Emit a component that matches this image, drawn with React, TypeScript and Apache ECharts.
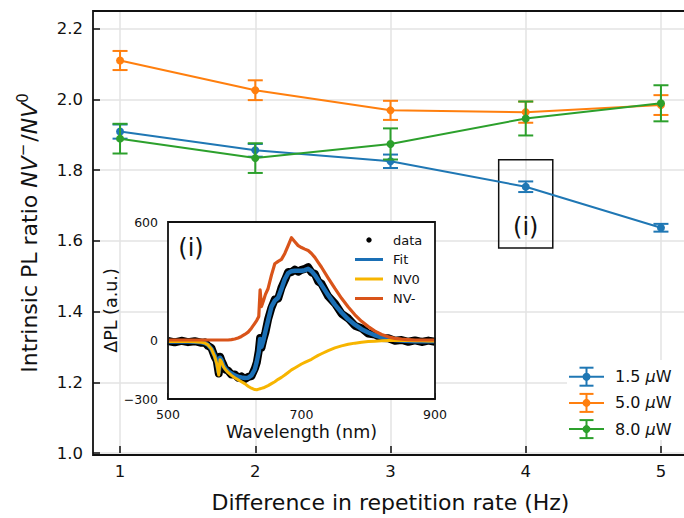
import React, { useEffect, useRef } from 'react';
import * as echarts from 'echarts';

// ---------- main panel data ----------
const repRates = [1, 2, 3, 4, 5];
const xTicks = [1, 2, 3, 4, 5];
const yTicks = [1.0, 1.2, 1.4, 1.6, 1.8, 2.0, 2.2];
const powerLabels = ['1.5', '5.0', '8.0'];
const colors = ['#1f77b4', '#ff7f0e', '#2ca02c'];
const ratio15 = [1.909, 1.856, 1.825, 1.753, 1.637];
const err15 = [0.02, 0.018, 0.019, 0.015, 0.011];
const ratio50 = [2.11, 2.026, 1.969, 1.964, 1.984];
const err50 = [0.027, 0.028, 0.027, 0.03, 0.028];
const ratio80 = [1.889, 1.834, 1.874, 1.946, 1.989];
const err80 = [0.042, 0.042, 0.044, 0.048, 0.051];

// ---------- inset data ----------
const wavelength = [500, 510, 520, 530, 540, 550, 555, 560, 565, 570, 573, 576, 578, 580, 583, 586, 590, 595, 600, 605, 610, 615, 620, 625, 630, 633, 636, 638, 640, 643, 646, 650, 655, 660, 665, 670, 675, 680, 685, 690, 695, 700, 705, 710, 715, 720, 725, 730, 740, 750, 760, 770, 780, 790, 800, 810, 820, 830, 840, 850, 860, 870, 880, 890, 900];
const dataPL = [-5, -12, -4, -11, -6, -14, -12, -30, -40, -86, -105, -170, -85, -104, -126, -150, -156, -176, -175, -192, -185, -198, -188, -184, -146, -115, -55, 10, -40, 5, 40, 106, 164, 206, 210, 266, 304, 346, 345, 358, 347, 357, 362, 370, 344, 336, 298, 286, 222, 186, 134, 110, 73, 60, 33, 28, 10, 9, -4, 0, -9, -2, -10, -3, -9];
const fitPL = [-8, -8, -8, -8, -9, -12, -15, -25, -45, -80, -110, -165, -90, -100, -130, -145, -160, -170, -180, -186, -190, -193, -192, -180, -150, -110, -60, 5, -35, 0, 45, 100, 170, 200, 215, 260, 310, 340, 350, 352, 352, 352, 355, 362, 350, 330, 305, 280, 228, 180, 140, 105, 78, 55, 38, 24, 14, 6, 0, -3, -5, -6, -6, -6, -6];
const nv0PL = [-8, -8, -8, -8, -9, -12, -15, -25, -45, -85, -120, -178, -100, -110, -135, -150, -165, -180, -192, -202, -212, -222, -235, -245, -252, -253, -250, -248, -246, -243, -238, -232, -222, -212, -200, -190, -178, -165, -152, -142, -132, -122, -114, -106, -98, -88, -78, -70, -54, -40, -30, -22, -16, -11, -8, -6, -4, -3, -2, -2, -3, -4, -4, -5, -5];
const nvmPL = [0, 0, 0, 0, 0, 0, 0, 0, 0, 0, 0, 0, 0, 0, 0, 0, 0, 2, 5, 10, 18, 28, 40, 60, 85, 100, 120, 255, 170, 200, 232, 262, 330, 388, 400, 410, 440, 480, 520, 500, 480, 470, 462, 455, 440, 420, 395, 370, 315, 262, 212, 168, 128, 95, 68, 45, 28, 16, 8, 4, 2, 0, 0, 0, 0];
const insetXTicks = [500, 700, 900];
const insetYTicks = [-300, 0, 600];
const insetNames = ['data', 'Fit', 'NV0', 'NV-'];
const insetColors = ['#000000', '#1a6fb5', '#f7b500', '#d9541a'];

const FONT = 'DejaVu Sans';

const MAIN_GRID = { left: 93, top: 11, width: 595, height: 444 };
const INSET_GRID = { left: 168, top: 222, width: 267, height: 177 };

function errRender(color: string) {
  return (params: any, api: any) => {
    const x = api.value(0);
    const y = api.value(1);
    const e = api.value(2);
    const top = api.coord([x, y + e]);
    const bot = api.coord([x, y - e]);
    const hw = 7.5;
    const style = { stroke: color, lineWidth: 2 };
    return {
      type: 'group',
      children: [
        { type: 'line', shape: { x1: top[0], y1: top[1], x2: bot[0], y2: bot[1] }, style },
        { type: 'line', shape: { x1: top[0] - hw, y1: top[1], x2: top[0] + hw, y2: top[1] }, style },
        { type: 'line', shape: { x1: bot[0] - hw, y1: bot[1], x2: bot[0] + hw, y2: bot[1] }, style },
      ],
    };
  };
}

export default function App() {
  const ref = useRef<HTMLDivElement>(null);
  useEffect(() => {
    if (!ref.current) return;
    const chart = echarts.init(ref.current, undefined, { renderer: 'svg' });
    const ratios = [ratio15, ratio50, ratio80];
    const errs = [err15, err50, err80];
    const insetVals = [dataPL, fitPL, nv0PL, nvmPL];
    const insetWidths = [8, 4.5, 3, 3.2];

    // inset axis extents in data units, used for the inward tick lengths
    const xMin = insetXTicks[0];
    const xMax = insetXTicks[insetXTicks.length - 1];
    const yMin = insetYTicks[0];
    const yMax = insetYTicks[insetYTicks.length - 1];
    const xTickLen = ((xMax - xMin) / INSET_GRID.width) * 6;
    const yTickLen = ((yMax - yMin) / INSET_GRID.height) * 6;

    const series: any[] = [];
    ratios.forEach((r, k) => {
      series.push({
        type: 'custom',
        xAxisIndex: 0,
        yAxisIndex: 0,
        z: 2 + k * 2,
        renderItem: errRender(colors[k]),
        encode: { x: 0, y: 1 },
        data: repRates.map((x, i) => [x, r[i], errs[k][i]]),
        silent: true,
      });
      const s: any = {
        type: 'line',
        name: powerLabels[k],
        xAxisIndex: 0,
        yAxisIndex: 0,
        z: 3 + k * 2,
        data: repRates.map((x, i) => [x, r[i]]),
        symbol: 'circle',
        symbolSize: 8,
        showSymbol: true,
        lineStyle: { color: colors[k], width: 2 },
        itemStyle: { color: colors[k] },
        silent: true,
      };
      if (k === 0) {
        s.markArea = {
          silent: true,
          itemStyle: { color: 'rgba(0,0,0,0)', borderColor: '#111', borderWidth: 1.5 },
          label: { show: true, position: 'insideBottom', distance: 10, formatter: '(i)', fontSize: 24, color: '#111', fontFamily: FONT },
          data: [[{ coord: [3.8, 1.58] }, { coord: [4.2, 1.829] }]],
        };
      }
      series.push(s);
    });
    insetVals.forEach((vals, k) => {
      const s: any = {
        type: 'line',
        name: insetNames[k],
        xAxisIndex: 1,
        yAxisIndex: 1,
        z: 20 + k,
        data: wavelength.map((w, i) => [w, vals[i]]),
        showSymbol: false,
        symbol: 'none',
        lineStyle: { color: insetColors[k], width: insetWidths[k], join: 'round' },
        silent: true,
      };
      if (k === 0) {
        // inset interior grid line at the middle wavelength tick
        s.markLine = {
          silent: true,
          symbol: 'none',
          label: { show: false },
          lineStyle: { color: '#e3e3e3', width: 1.5, type: 'solid' },
          data: insetXTicks.slice(1, -1).map((v) => ({ xAxis: v })),
        };
      }
      if (k === insetVals.length - 1) {
        // inward tick marks of the inset
        const tickData: any[] = [];
        insetXTicks.forEach((v) => {
          tickData.push([{ coord: [v, yMin] }, { coord: [v, yMin + yTickLen] }]);
        });
        insetYTicks.forEach((v) => {
          tickData.push([{ coord: [xMin, v] }, { coord: [xMin + xTickLen, v] }]);
        });
        s.markLine = {
          silent: true,
          symbol: 'none',
          label: { show: false },
          lineStyle: { color: '#111', width: 1.5, type: 'solid' },
          data: tickData,
        };
      }
      series.push(s);
    });

    const graphics: any[] = [];
    // frames and inset background
    graphics.push({ type: 'rect', silent: true, shape: { x: MAIN_GRID.left, y: MAIN_GRID.top, width: MAIN_GRID.width, height: MAIN_GRID.height }, style: { fill: 'none', stroke: '#111', lineWidth: 1.8 }, z: 8 });
    graphics.push({ type: 'rect', silent: true, shape: { x: INSET_GRID.left, y: INSET_GRID.top, width: INSET_GRID.width, height: INSET_GRID.height }, style: { fill: '#fff' }, z: 9 });
    graphics.push({ type: 'rect', silent: true, shape: { x: INSET_GRID.left, y: INSET_GRID.top, width: INSET_GRID.width, height: INSET_GRID.height }, style: { fill: 'none', stroke: '#111', lineWidth: 1.8 }, z: 45 });
    // main legend
    graphics.push({ type: 'rect', shape: { x: 567, y: 360, width: 120, height: 80 }, style: { fill: '#fff' }, z: 30 });
    powerLabels.forEach((p, k) => {
      const y0 = 376.7 + k * 26.2;
      const st = { stroke: colors[k], lineWidth: 2 };
      graphics.push({ type: 'line', shape: { x1: 569, y1: y0, x2: 604, y2: y0 }, style: st, z: 31 });
      graphics.push({ type: 'line', shape: { x1: 586.5, y1: y0 - 9, x2: 586.5, y2: y0 + 9 }, style: st, z: 31 });
      graphics.push({ type: 'line', shape: { x1: 579.5, y1: y0 - 9, x2: 593.5, y2: y0 - 9 }, style: st, z: 31 });
      graphics.push({ type: 'line', shape: { x1: 579.5, y1: y0 + 9, x2: 593.5, y2: y0 + 9 }, style: st, z: 31 });
      graphics.push({ type: 'circle', shape: { cx: 586.5, cy: y0, r: 4 }, style: { fill: colors[k] }, z: 32 });
      graphics.push({
        type: 'text', x: 615, y: y0, z: 32,
        style: {
          text: `{n|${p} }{i|μ}{n|W}`,
          verticalAlign: 'middle',
          rich: {
            n: { fontSize: 16, fontFamily: FONT, fill: '#111' },
            i: { fontSize: 16, fontFamily: FONT, fontStyle: 'italic', fill: '#111' },
          },
        },
      });
    });
    // inset legend
    insetNames.forEach((n, k) => {
      const y0 = 240 + k * 19.5;
      if (k === 0) {
        graphics.push({ type: 'circle', shape: { cx: 369, cy: y0, r: 2.7 }, style: { fill: '#000' }, z: 40 });
      } else {
        graphics.push({ type: 'line', shape: { x1: 355, y1: y0, x2: 383, y2: y0 }, style: { stroke: insetColors[k], lineWidth: 3 }, z: 40 });
      }
      graphics.push({ type: 'text', x: 393, y: y0, z: 40, style: { text: n, fontSize: 13, fontFamily: FONT, fill: '#111', verticalAlign: 'middle' } });
    });
    graphics.push({ type: 'text', x: 191, y: 248, z: 40, style: { text: '(i)', fontSize: 24, fontFamily: FONT, fill: '#111', align: 'center', verticalAlign: 'middle' } });

    const tickStyle = { color: '#111', width: 1.5 };
    const splitStyle = { show: true, lineStyle: { color: '#e3e3e3', width: 1.5 } };

    chart.setOption({
      animation: false,
      backgroundColor: '#fff',
      grid: [
        { ...MAIN_GRID, show: false },
        { ...INSET_GRID, show: false },
      ],
      xAxis: [
        {
          type: 'value', gridIndex: 0, min: 0.8, max: 5.2,
          axisLine: { show: false, onZero: false },
          axisTick: { show: true, inside: true, length: 7, lineStyle: tickStyle, customValues: xTicks },
          axisLabel: { show: true, customValues: xTicks, fontSize: 16.5, fontFamily: FONT, color: '#111', margin: 10, formatter: (v: number) => String(v) },
          splitLine: splitStyle,
          name: 'Difference in repetition rate (Hz)', nameLocation: 'middle', nameGap: 38,
          nameTextStyle: { fontSize: 22, fontFamily: FONT, color: '#111' },
        },
        {
          type: 'value', gridIndex: 1, min: xMin, max: xMax, z: 12,
          axisLine: { show: false, onZero: false },
          axisTick: { show: false },
          axisLabel: { show: true, customValues: insetXTicks, fontSize: 12.5, fontFamily: FONT, color: '#111', margin: 9 },
          splitLine: { show: false },
          name: 'Wavelength (nm)', nameLocation: 'middle', nameGap: 24,
          nameTextStyle: { fontSize: 17.5, fontFamily: FONT, color: '#111' },
        },
      ],
      yAxis: [
        {
          type: 'value', gridIndex: 0, min: 1.0, max: 2.25,
          axisLine: { show: false, onZero: false },
          axisTick: { show: true, inside: true, length: 7, lineStyle: tickStyle, customValues: yTicks },
          axisLabel: { show: true, customValues: yTicks, fontSize: 16.5, fontFamily: FONT, color: '#111', margin: 10, formatter: (v: number) => v.toFixed(1) },
          splitLine: splitStyle,
          name: '{a|Intrinsic PL ratio }{b|NV}{c|−}{a|/}{b|NV}{c|0}',
          nameLocation: 'middle', nameGap: 49,
          nameTextStyle: {
            fontSize: 22, fontFamily: FONT, color: '#111',
            rich: {
              a: { fontSize: 22, fontFamily: FONT, color: '#111' },
              b: { fontSize: 22, fontFamily: FONT, color: '#111', fontStyle: 'italic' },
              c: { fontSize: 15, fontFamily: FONT, color: '#111', padding: [0, 2, 14, 0] },
            },
          },
        },
        {
          type: 'value', gridIndex: 1, min: yMin, max: yMax, z: 12,
          axisLine: { show: false, onZero: false },
          axisTick: { show: false },
          axisLabel: { show: true, customValues: insetYTicks, fontSize: 12.5, fontFamily: FONT, color: '#111', margin: 10, formatter: (v: number) => (v < 0 ? '−' + Math.abs(v) : String(v)) },
          splitLine: { show: false },
          name: 'ΔPL (a.u.)', nameLocation: 'middle', nameGap: 25,
          nameTextStyle: { fontSize: 17.5, fontFamily: FONT, color: '#111' },
        },
      ],
      series,
      graphic: graphics,
    });
    return () => chart.dispose();
  }, []);
  return (
    <div style={{ position: 'absolute', left: 0, top: 0, width: 684, height: 518, overflow: 'hidden' }}>
      <div ref={ref} style={{ width: 700, height: 518 }} />
    </div>
  );
}
